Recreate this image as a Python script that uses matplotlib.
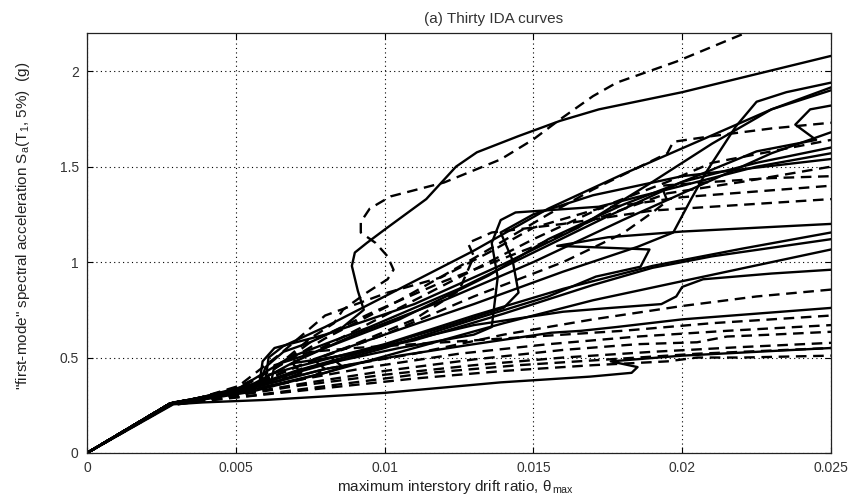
import numpy as np
import matplotlib.pyplot as plt

plt.rcParams['font.family'] = ['Liberation Sans', 'DejaVu Sans']
plt.rcParams['mathtext.fontset'] = 'custom'
plt.rcParams['mathtext.rm'] = 'Liberation Sans'
plt.rcParams['mathtext.it'] = 'Liberation Sans'

# IDA curves: max interstory drift (in units of 1e-3) vs Sa(T1,5%) in g
d01 = [0, 2.8, 3.8, 5.5, 6.5, 7.5, 8.3, 8.6, 9.4, 10.1, 10.3, 10.1, 9.7, 9.2, 9.2, 9.5, 10.2, 12.0, 13.9, 15.0, 15.9, 17.0, 17.8, 19.8, 22.2, 23.0]
s01 = [0, 0.26, 0.29, 0.37, 0.47, 0.60, 0.68, 0.75, 0.84, 0.91, 0.96, 1.03, 1.10, 1.155, 1.21, 1.28, 1.344, 1.417, 1.538, 1.643, 1.748, 1.869, 1.94, 2.05, 2.205, 2.26]

d02 = [0, 2.8, 3.8, 5.8, 6.0, 6.6, 7.5, 8.6, 9.3, 9.1, 8.9, 9.0, 9.4, 10.0, 11.4, 12.4, 13.1, 14.5, 15.9, 17.2, 20.0, 25.0]
s02 = [0, 0.26, 0.285, 0.36, 0.45, 0.53, 0.58, 0.66, 0.75, 0.85, 0.98, 1.05, 1.10, 1.17, 1.33, 1.50, 1.575, 1.66, 1.74, 1.80, 1.89, 2.08]

d03 = [0, 2.9, 3.9, 5.0, 7.0, 8.0, 7.6, 10.0, 13.0, 16.0, 18.5, 19.7, 20.3, 20.8, 21.3, 21.8, 22.5, 23.5, 25.0]
s03 = [0, 0.265, 0.29, 0.32, 0.40, 0.44, 0.49, 0.62, 0.78, 0.95, 1.08, 1.155, 1.33, 1.47, 1.59, 1.71, 1.84, 1.89, 1.94]

d04 = [0, 2.8, 3.8, 4.8, 5.8, 5.9, 6.3, 8.0, 11.0, 14.0, 16.5, 19.0, 21.0, 23.0, 25.0]
s04 = [0, 0.26, 0.29, 0.33, 0.37, 0.48, 0.55, 0.62, 0.78, 0.99, 1.18, 1.42, 1.62, 1.80, 1.915]

d05 = [0, 2.8, 3.8, 5.0, 6.8, 9.5, 12.5, 15.0, 17.5, 20.0, 22.5, 24.5, 23.8, 24.3, 25.0]
s05 = [0, 0.26, 0.285, 0.33, 0.50, 0.66, 0.86, 1.05, 1.24, 1.42, 1.58, 1.64, 1.72, 1.80, 1.82]

d06 = [0, 2.8, 3.9, 5.2, 7.0, 9.0, 12.0, 15.0, 18.0, 21.0, 23.0, 25.0]
s06 = [0, 0.255, 0.285, 0.33, 0.48, 0.62, 0.80, 1.00, 1.22, 1.43, 1.57, 1.68]

d07 = [0, 2.9, 4.0, 5.5, 6.2, 6.3, 7.5, 10.5, 13.5, 15.5, 18.0, 20.0, 22.5, 25.0]
s07 = [0, 0.26, 0.29, 0.34, 0.38, 0.46, 0.52, 0.70, 0.93, 1.12, 1.30, 1.42, 1.52, 1.60]

d08 = [0, 2.8, 3.8, 5.3, 7.5, 10.5, 13.0, 13.6, 13.8, 13.6, 13.9, 14.4, 17.2, 20.0, 22.5, 25.0]
s08 = [0, 0.26, 0.285, 0.33, 0.45, 0.55, 0.62, 0.66, 0.92, 1.10, 1.22, 1.26, 1.29, 1.40, 1.50, 1.57]

d09 = [0, 2.8, 3.8, 5.0, 6.5, 7.2, 6.9, 9.0, 12.0, 14.0, 14.5, 14.3, 13.9, 15.0, 17.0, 20.0, 25.0]
s09 = [0, 0.26, 0.285, 0.32, 0.38, 0.42, 0.47, 0.52, 0.66, 0.76, 0.84, 1.01, 1.155, 1.25, 1.35, 1.45, 1.54]

d10 = [0, 2.8, 3.8, 5.0, 6.3, 7.5, 9.5, 12.0, 15.0, 17.0, 19.5, 22.0, 25.0]
s10 = [0, 0.26, 0.29, 0.34, 0.44, 0.58, 0.73, 0.90, 1.08, 1.22, 1.36, 1.42, 1.50]

d11 = [0, 2.8, 3.9, 5.5, 7.5, 10.0, 13.0, 16.0, 18.0, 19.0, 19.5, 19.3, 21.0, 23.0, 25.0]
s11 = [0, 0.26, 0.29, 0.35, 0.48, 0.62, 0.82, 1.00, 1.15, 1.26, 1.32, 1.40, 1.42, 1.44, 1.45]

d12 = [0, 2.8, 3.8, 5.0, 7.0, 9.0, 11.0, 12.5, 13.0, 12.8, 13.6, 16.0, 19.0, 22.0, 25.0]
s12 = [0, 0.255, 0.28, 0.32, 0.45, 0.57, 0.70, 0.85, 1.03, 1.10, 1.155, 1.20, 1.27, 1.30, 1.33]

d13 = [0, 2.8, 3.8, 5.0, 6.0, 6.1, 7.0, 10.0, 13.0, 16.0, 19.0, 22.0, 25.0]
s13 = [0, 0.26, 0.29, 0.33, 0.36, 0.41, 0.45, 0.57, 0.72, 0.86, 0.98, 1.07, 1.155]

d14 = [0, 2.9, 4.0, 5.5, 8.0, 8.6, 8.2, 11.0, 14.0, 17.0, 19.0, 21.0, 25.0]
s14 = [0, 0.26, 0.285, 0.33, 0.42, 0.45, 0.50, 0.59, 0.73, 0.88, 0.97, 1.03, 1.12]

d15 = [0, 2.8, 3.8, 5.0, 7.0, 10.0, 13.0, 15.5, 17.1, 18.6, 18.9, 17.5, 15.8, 17.5, 20.0, 25.0]
s15 = [0, 0.26, 0.285, 0.32, 0.42, 0.55, 0.70, 0.82, 0.924, 0.976, 1.066, 1.075, 1.085, 1.13, 1.16, 1.20]

d16 = [0, 2.8, 3.9, 5.5, 8.0, 11.0, 14.0, 17.0, 20.0, 25.0]
s16 = [0, 0.255, 0.28, 0.32, 0.42, 0.55, 0.68, 0.80, 0.90, 1.066]

d17 = [0, 2.8, 3.8, 5.0, 7.0, 10.0, 13.0, 16.0, 17.6, 19.3, 19.8, 20.0, 20.7, 23.0, 25.0]
s17 = [0, 0.26, 0.285, 0.32, 0.43, 0.56, 0.67, 0.74, 0.76, 0.78, 0.82, 0.87, 0.91, 0.94, 0.96]

d18 = [0, 2.8, 3.9, 5.5, 6.8, 7.6, 8.0, 11.0, 14.0, 17.0, 20.0, 22.5, 25.0]
s18 = [0, 0.26, 0.285, 0.33, 0.37, 0.40, 0.44, 0.52, 0.62, 0.70, 0.77, 0.82, 0.856]

d19 = [0, 2.8, 3.8, 4.5, 6.0, 8.0, 10.5, 13.0, 15.6, 16.6, 17.8, 20.0, 25.0]
s19 = [0, 0.255, 0.28, 0.30, 0.36, 0.44, 0.51, 0.57, 0.63, 0.64, 0.66, 0.70, 0.76]

d20 = [0, 2.8, 3.8, 5.0, 7.0, 9.5, 12.5, 15.5, 18.5, 21.5, 25.0]
s20 = [0, 0.26, 0.28, 0.31, 0.38, 0.45, 0.52, 0.57, 0.61, 0.64, 0.67]

d21 = [0, 2.8, 3.9, 5.2, 7.5, 10.0, 13.0, 16.0, 18.5, 20.5, 21.5, 23.0, 25.0]
s21 = [0, 0.255, 0.28, 0.31, 0.37, 0.43, 0.49, 0.54, 0.57, 0.58, 0.61, 0.62, 0.635]

d22 = [0, 2.8, 3.8, 5.0, 7.0, 10.0, 13.0, 16.0, 19.0, 22.0, 25.0]
s22 = [0, 0.255, 0.275, 0.30, 0.35, 0.41, 0.46, 0.50, 0.53, 0.555, 0.577]

d23 = [0, 2.8, 3.8, 5.0, 8.0, 11.0, 14.0, 17.0, 19.5, 20.5, 22.0, 25.0]
s23 = [0, 0.25, 0.27, 0.29, 0.34, 0.39, 0.43, 0.46, 0.48, 0.50, 0.50, 0.51]

d24 = [0, 2.9, 3.9, 6.0, 10.0, 13.9, 16.9, 18.3, 18.5, 17.6, 20.0, 22.5, 25.0]
s24 = [0, 0.255, 0.265, 0.278, 0.315, 0.37, 0.40, 0.42, 0.45, 0.48, 0.51, 0.53, 0.55]

d25 = [0, 2.8, 3.9, 5.5, 8.5, 11.5, 14.5, 17.5, 20.5, 25.0]
s25 = [0, 0.25, 0.275, 0.30, 0.36, 0.42, 0.46, 0.49, 0.52, 0.55]

d26 = [0, 2.8, 3.8, 5.0, 6.5, 8.0, 10.5, 13.0, 15.5, 17.0, 19.5, 19.7, 21.0, 23.0, 25.0]
s26 = [0, 0.26, 0.29, 0.33, 0.46, 0.60, 0.80, 1.02, 1.25, 1.38, 1.57, 1.63, 1.66, 1.70, 1.73]

d27 = [0, 2.8, 3.9, 5.5, 7.5, 10.0, 12.5, 15.0, 17.5, 19.5, 21.0, 23.0, 25.0]
s27 = [0, 0.26, 0.29, 0.35, 0.52, 0.72, 0.92, 1.12, 1.30, 1.42, 1.52, 1.58, 1.64]

d28 = [0, 2.8, 3.8, 5.0, 6.0, 6.1, 6.6, 8.0, 10.5, 13.0, 15.5, 18.0, 20.5, 23.0, 25.0]
s28 = [0, 0.26, 0.29, 0.33, 0.38, 0.50, 0.56, 0.66, 0.86, 1.06, 1.28, 1.46, 1.63, 1.80, 1.90]

d29 = [0, 2.8, 3.9, 5.0, 6.5, 8.0, 10.1, 11.9, 13.5, 15.0, 17.2, 20.0, 22.5, 25.0]
s29 = [0, 0.26, 0.29, 0.34, 0.52, 0.72, 0.84, 0.92, 1.05, 1.18, 1.28, 1.34, 1.37, 1.40]

d30 = [0, 2.8, 3.8, 5.0, 6.5, 7.2, 6.9, 7.5, 9.0, 12.0, 15.0, 18.0, 21.0, 25.0]
s30 = [0, 0.26, 0.285, 0.33, 0.38, 0.44, 0.50, 0.53, 0.55, 0.58, 0.61, 0.64, 0.68, 0.72]

drifts = [d01, d02, d03, d04, d05, d06, d07, d08, d09, d10, d11, d12, d13, d14, d15,
          d16, d17, d18, d19, d20, d21, d22, d23, d24, d25, d26, d27, d28, d29, d30]
sas = [s01, s02, s03, s04, s05, s06, s07, s08, s09, s10, s11, s12, s13, s14, s15,
       s16, s17, s18, s19, s20, s21, s22, s23, s24, s25, s26, s27, s28, s29, s30]
dashed = {1, 10, 11, 12, 18, 20, 21, 22, 23, 25, 26, 27, 29, 30}

xticks = [0, 0.005, 0.01, 0.015, 0.02, 0.025]
xticklabels = ['0', '0.005', '0.01', '0.015', '0.02', '0.025']
yticks = [0, 0.5, 1, 1.5, 2]
yticklabels = ['0', '0.5', '1', '1.5', '2']

fig = plt.figure(figsize=(8.51, 4.95), dpi=100)
ax = fig.add_axes([87/851, 42/495, 744/851, 420/495])

for i, (d, s) in enumerate(zip(drifts, sas), start=1):
    ls = (0, (4.5, 2.8)) if i in dashed else '-'
    ax.plot(np.array(d) / 1000, s, color='black', lw=1.7, linestyle=ls,
            solid_joinstyle='round', dash_capstyle='butt')

ax.set_xlim(0, 0.025)
ax.set_ylim(0, 2.2)
ax.set_xticks(xticks)
ax.set_xticklabels(xticklabels)
ax.set_yticks(yticks)
ax.set_yticklabels(yticklabels)
ax.grid(True, color='black', linestyle=(0, (1, 3)), linewidth=0.8)
ax.tick_params(direction='in', top=True, right=True, length=4, width=0.8,
               labelsize=10, labelcolor='#333333', pad=6)
for sp in ax.spines.values():
    sp.set_linewidth(0.9)
    sp.set_color('#222222')

ax.set_title('(a) Thirty IDA curves', fontsize=11, color='#333333', x=0.546, pad=7)
ax.set_xlabel(r'maximum interstory drift ratio, $\theta_{\,\mathrm{max}}$', fontsize=11, color='#222222')
ax.xaxis.set_label_coords(0.495, -0.06)
ax.set_ylabel(r'"first-mode" spectral acceleration S$_{\mathrm{a}}$(T$_1$, 5%)  (g)', fontsize=11, color='#222222')
ax.yaxis.set_label_coords(-0.074, 0.54)

fig.savefig('out.png', dpi=100, facecolor='white')
